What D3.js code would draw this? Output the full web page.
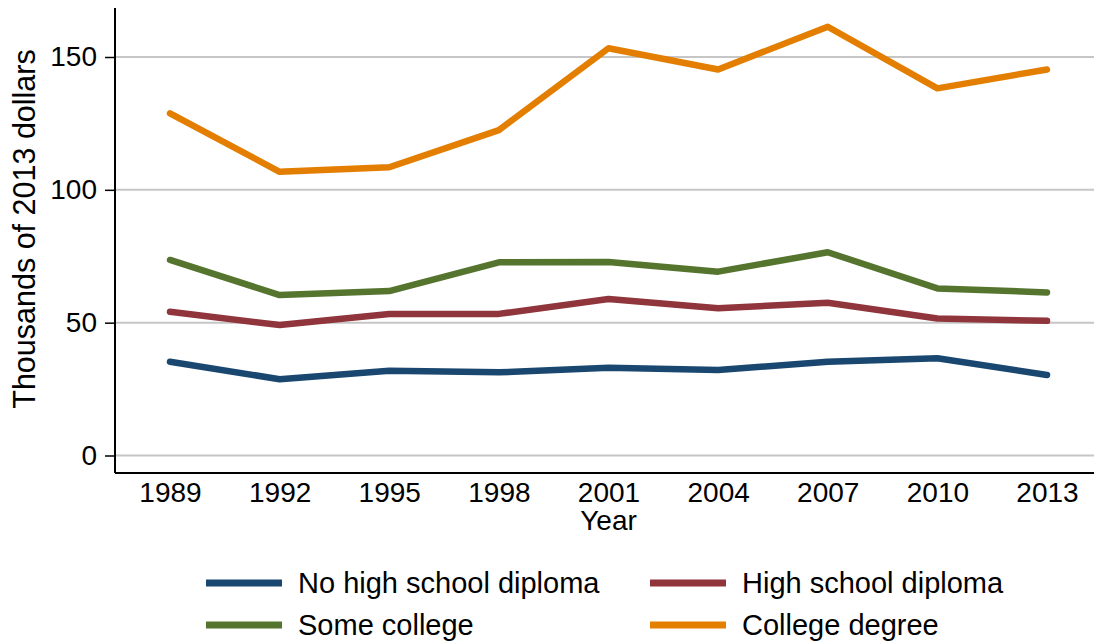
<!DOCTYPE html>
<html>
<head>
<meta charset="utf-8">
<script src="https://cdn.jsdelivr.net/npm/d3@7"></script>
<style>
  html, body { margin: 0; padding: 0; background: #fff; }
  svg { display: block; font-family: "Liberation Sans", Arial, Helvetica, sans-serif; }
</style>
</head>
<body>
<svg id="chart" width="1095" height="643"></svg>
<script>
const years = [1989, 1992, 1995, 1998, 2001, 2004, 2007, 2010, 2013];
const seriesNames = ["No high school diploma", "High school diploma", "Some college", "College degree"];
const seriesColors = ["#1a476f", "#90353b", "#55752f", "#e37e00"];
const noHighSchool = [35.3, 28.7, 31.9, 31.3, 33.0, 32.2, 35.3, 36.6, 30.3];
const highSchool   = [54.1, 49.1, 53.3, 53.3, 58.9, 55.4, 57.5, 51.6, 50.7];
const someCollege  = [73.6, 60.4, 61.9, 72.7, 72.8, 69.2, 76.5, 62.9, 61.4];
const collegeDeg   = [128.8, 106.8, 108.5, 122.5, 153.3, 145.3, 161.4, 138.2, 145.3];
const yTicks = [0, 50, 100, 150];
const xLabel = "Year";
const yLabel = "Thousands of 2013 dollars";

const seriesValues = [noHighSchool, highSchool, someCollege, collegeDeg];

const svg = d3.select("#chart");
const plot = { left: 115, right: 1094, top: 8, bottom: 473 };

const x = d3.scaleLinear().domain([1989, 2013]).range([170, 1047]);
const y = d3.scaleLinear().domain([0, 150]).range([455.5, 57]);

// gridlines
svg.append("g").selectAll("line").data(yTicks).join("line")
  .attr("x1", plot.left).attr("x2", plot.right)
  .attr("y1", d => y(d)).attr("y2", d => y(d))
  .attr("stroke", "#c6c6c6").attr("stroke-width", 2);

// y axis
const yAxis = d3.axisLeft(y).tickValues(yTicks).tickSize(10).tickPadding(8).tickSizeOuter(0);
const gy = svg.append("g").attr("transform", `translate(${plot.left},0)`).call(yAxis);
gy.select(".domain").remove();
gy.selectAll(".tick line").attr("stroke", "#000").attr("stroke-width", 1.5);
gy.selectAll(".tick text").attr("font-size", 28).attr("fill", "#000")
  .attr("font-family", "Liberation Sans, Arial, sans-serif").attr("x", -18);
svg.append("line").attr("x1", plot.left).attr("x2", plot.left)
  .attr("y1", plot.top).attr("y2", plot.bottom)
  .attr("stroke", "#000").attr("stroke-width", 2);

// x axis
const xAxis = d3.axisBottom(x).tickValues(years).tickFormat(d3.format("d")).tickSize(0).tickPadding(9);
const gx = svg.append("g").attr("transform", `translate(0,${plot.bottom})`).call(xAxis);
gx.select(".domain").remove();
gx.selectAll(".tick text").attr("font-size", 28).attr("fill", "#000")
  .attr("font-family", "Liberation Sans, Arial, sans-serif");
svg.append("line").attr("x1", plot.left).attr("x2", plot.right)
  .attr("y1", plot.bottom).attr("y2", plot.bottom)
  .attr("stroke", "#000").attr("stroke-width", 2);

// axis titles
svg.append("text").attr("x", (170 + 1047) / 2).attr("y", 530)
  .attr("text-anchor", "middle").attr("font-size", 28).text(xLabel);
svg.append("text").attr("transform", `translate(35,229) rotate(-90)`)
  .attr("text-anchor", "middle").attr("font-size", 30.5).text(yLabel);

// lines
const line = d3.line().x((d, i) => x(years[i])).y(d => y(d));
svg.append("g").selectAll("path").data(seriesValues).join("path")
  .attr("d", d => line(d))
  .attr("fill", "none")
  .attr("stroke", (d, i) => seriesColors[i])
  .attr("stroke-width", 6.5)
  .attr("stroke-linecap", "round")
  .attr("stroke-linejoin", "round");

// legend
const legendPos = [
  { sx: 206, ty: 583 }, { sx: 650, ty: 583 },
  { sx: 206, ty: 625 }, { sx: 650, ty: 625 }
];
const lg = svg.append("g").selectAll("g").data(seriesNames).join("g")
  .attr("transform", (d, i) => `translate(${legendPos[i].sx},${legendPos[i].ty})`);
lg.append("line").attr("x1", 0).attr("x2", 76).attr("y1", 0).attr("y2", 0)
  .attr("stroke", (d, i) => seriesColors[i]).attr("stroke-width", 7);
lg.append("text").attr("x", 92).attr("y", 0).attr("dy", "0.35em")
  .attr("font-size", 29).text(d => d);
</script>
</body>
</html>
